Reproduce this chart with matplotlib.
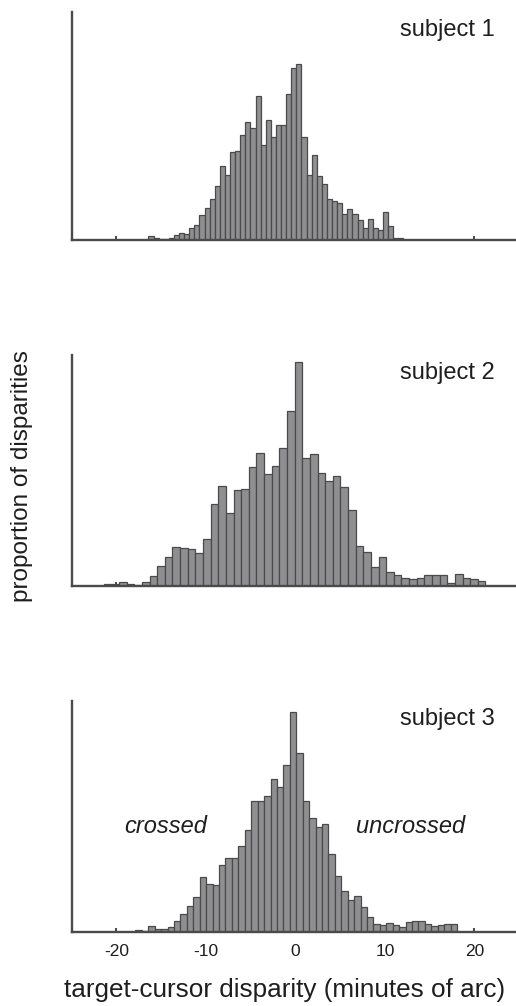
import numpy as np
import matplotlib
matplotlib.use("Agg")
import matplotlib.pyplot as plt

plt.rcParams['font.family'] = ['Liberation Sans', 'DejaVu Sans']

# Histogram heights (relative frequency, arbitrary units), 50 bins per subject
subj1_heights = [4, 2, 1, 1, 2, 5.3, 6.7, 6.3, 12, 15,
                 24.7, 32, 40.7, 54.3, 74, 65, 88, 88.7, 105, 118,
                 112, 144.3, 95.3, 120, 102.5, 115.3, 115, 146, 172, 175.5,
                 102.7, 64.7, 85, 63.7, 56.3, 40.7, 39, 37.3, 26.3, 30.7,
                 25.7, 19.7, 11.7, 20.7, 12.3, 9.7, 28, 13.7, 2, 2]
subj2_heights = [2.5, 1.8, 4.2, 2.2, 1.5, 4.3, 10.5, 20.5, 29.3, 39.3,
                 38.2, 37, 33.5, 47.5, 82.5, 100.3, 73.5, 96.3, 97, 119,
                 133, 112.5, 120, 138.5, 175.5, 224.3, 128.3, 132, 112.7, 105.3,
                 109.7, 98.7, 75.7, 40.3, 33.7, 19.3, 29.3, 14, 11, 8.3,
                 7.3, 8.3, 11.3, 11.3, 11.3, 2.7, 12.3, 7.7, 7, 4.7]
subj3_heights = [1.7, 0.5, 5.5, 3.2, 3.2, 4.8, 10.3, 17.3, 26.2, 34.3,
                 55, 48.2, 47.2, 66.7, 74, 74, 86, 101.8, 130.7, 130.7,
                 135.5, 153, 144.5, 166.3, 219.5, 178.3, 131, 114, 104.3, 107.3,
                 77.5, 55.5, 40.7, 31.8, 36.2, 24.7, 15.2, 7.8, 7, 9,
                 6.7, 4.7, 10.2, 11, 10.5, 8.2, 5.3, 6.5, 8.2, 8.2]

# Disparity range covered by each subject's histogram (minutes of arc)
subj1_range = (-16.42, 12.07)
subj2_range = (-21.42, 21.23)
subj3_range = (-17.88, 18.06)

subjects = ["subject 1", "subject 2", "subject 3"]
x_ticks = [-20, -10, 0, 10, 20]
x_ticklabels = ["-20", "-10", "0", "10", "20"]

W, H = 516, 1006
fig = plt.figure(figsize=(W / 100, H / 100), dpi=100)

spine_col = "#4a4a4a"
bar_face = "#8f8f92"
bar_edge = "#4a4a4a"
text_col = "#1e1e1e"

# axes boxes in pixels: (top, bottom)
left_px, right_px = 71.7, 519.2
boxes = [(11.7, 240.0), (355.0, 586.0), (700.7, 931.7)]

data = [(subj1_heights, subj1_range), (subj2_heights, subj2_range),
        (subj3_heights, subj3_range)]

for i, ((top, bot), (heights, rng), name) in enumerate(zip(boxes, data, subjects)):
    ax = fig.add_axes([left_px / W, 1 - bot / H, (right_px - left_px) / W, (bot - top) / H])
    heights = np.asarray(heights, dtype=float)
    edges = np.linspace(rng[0], rng[1], len(heights) + 1)
    ax.bar(edges[:-1], heights, width=np.diff(edges), align='edge',
           color=bar_face, edgecolor=bar_edge, linewidth=0.9, zorder=2)
    ax.set_xlim(-25, 25)
    ax.set_ylim(0, bot - top)
    for s in ("top", "right"):
        ax.spines[s].set_visible(False)
    for s in ("left", "bottom"):
        ax.spines[s].set_color(spine_col)
        ax.spines[s].set_linewidth(1.7)
        ax.spines[s].set_zorder(3)
    ax.set_yticks([])
    ax.set_xticks(x_ticks)
    ax.tick_params(axis='x', direction='in', length=3.2, width=1.4,
                   color=spine_col, labelsize=12.5, pad=9, labelcolor=text_col)
    if i < 2:
        ax.set_xticklabels([])
    else:
        ax.set_xticklabels(x_ticklabels)
    ax.text(0.946, 0.894, name, transform=ax.transAxes, ha='right',
            va='baseline', fontsize=17, color=text_col)
    if i == 2:
        ax.text(-14.5, 0.4286 * (bot - top), "crossed", ha='center', va='baseline',
                fontsize=17, style='italic', color=text_col)
        ax.text(12.9, 0.4286 * (bot - top), "uncrossed", ha='center', va='baseline',
                fontsize=17, style='italic', color=text_col)

fig.text(285 / W, 1 - 990 / H, "target-cursor disparity (minutes of arc)",
         ha='center', va='center', fontsize=18.8, color=text_col)
fig.text(22 / W, 1 - 476 / H, "proportion of disparities", rotation=90,
         ha='center', va='center', fontsize=17.5, color=text_col)

fig.savefig("out.png", dpi=100)
